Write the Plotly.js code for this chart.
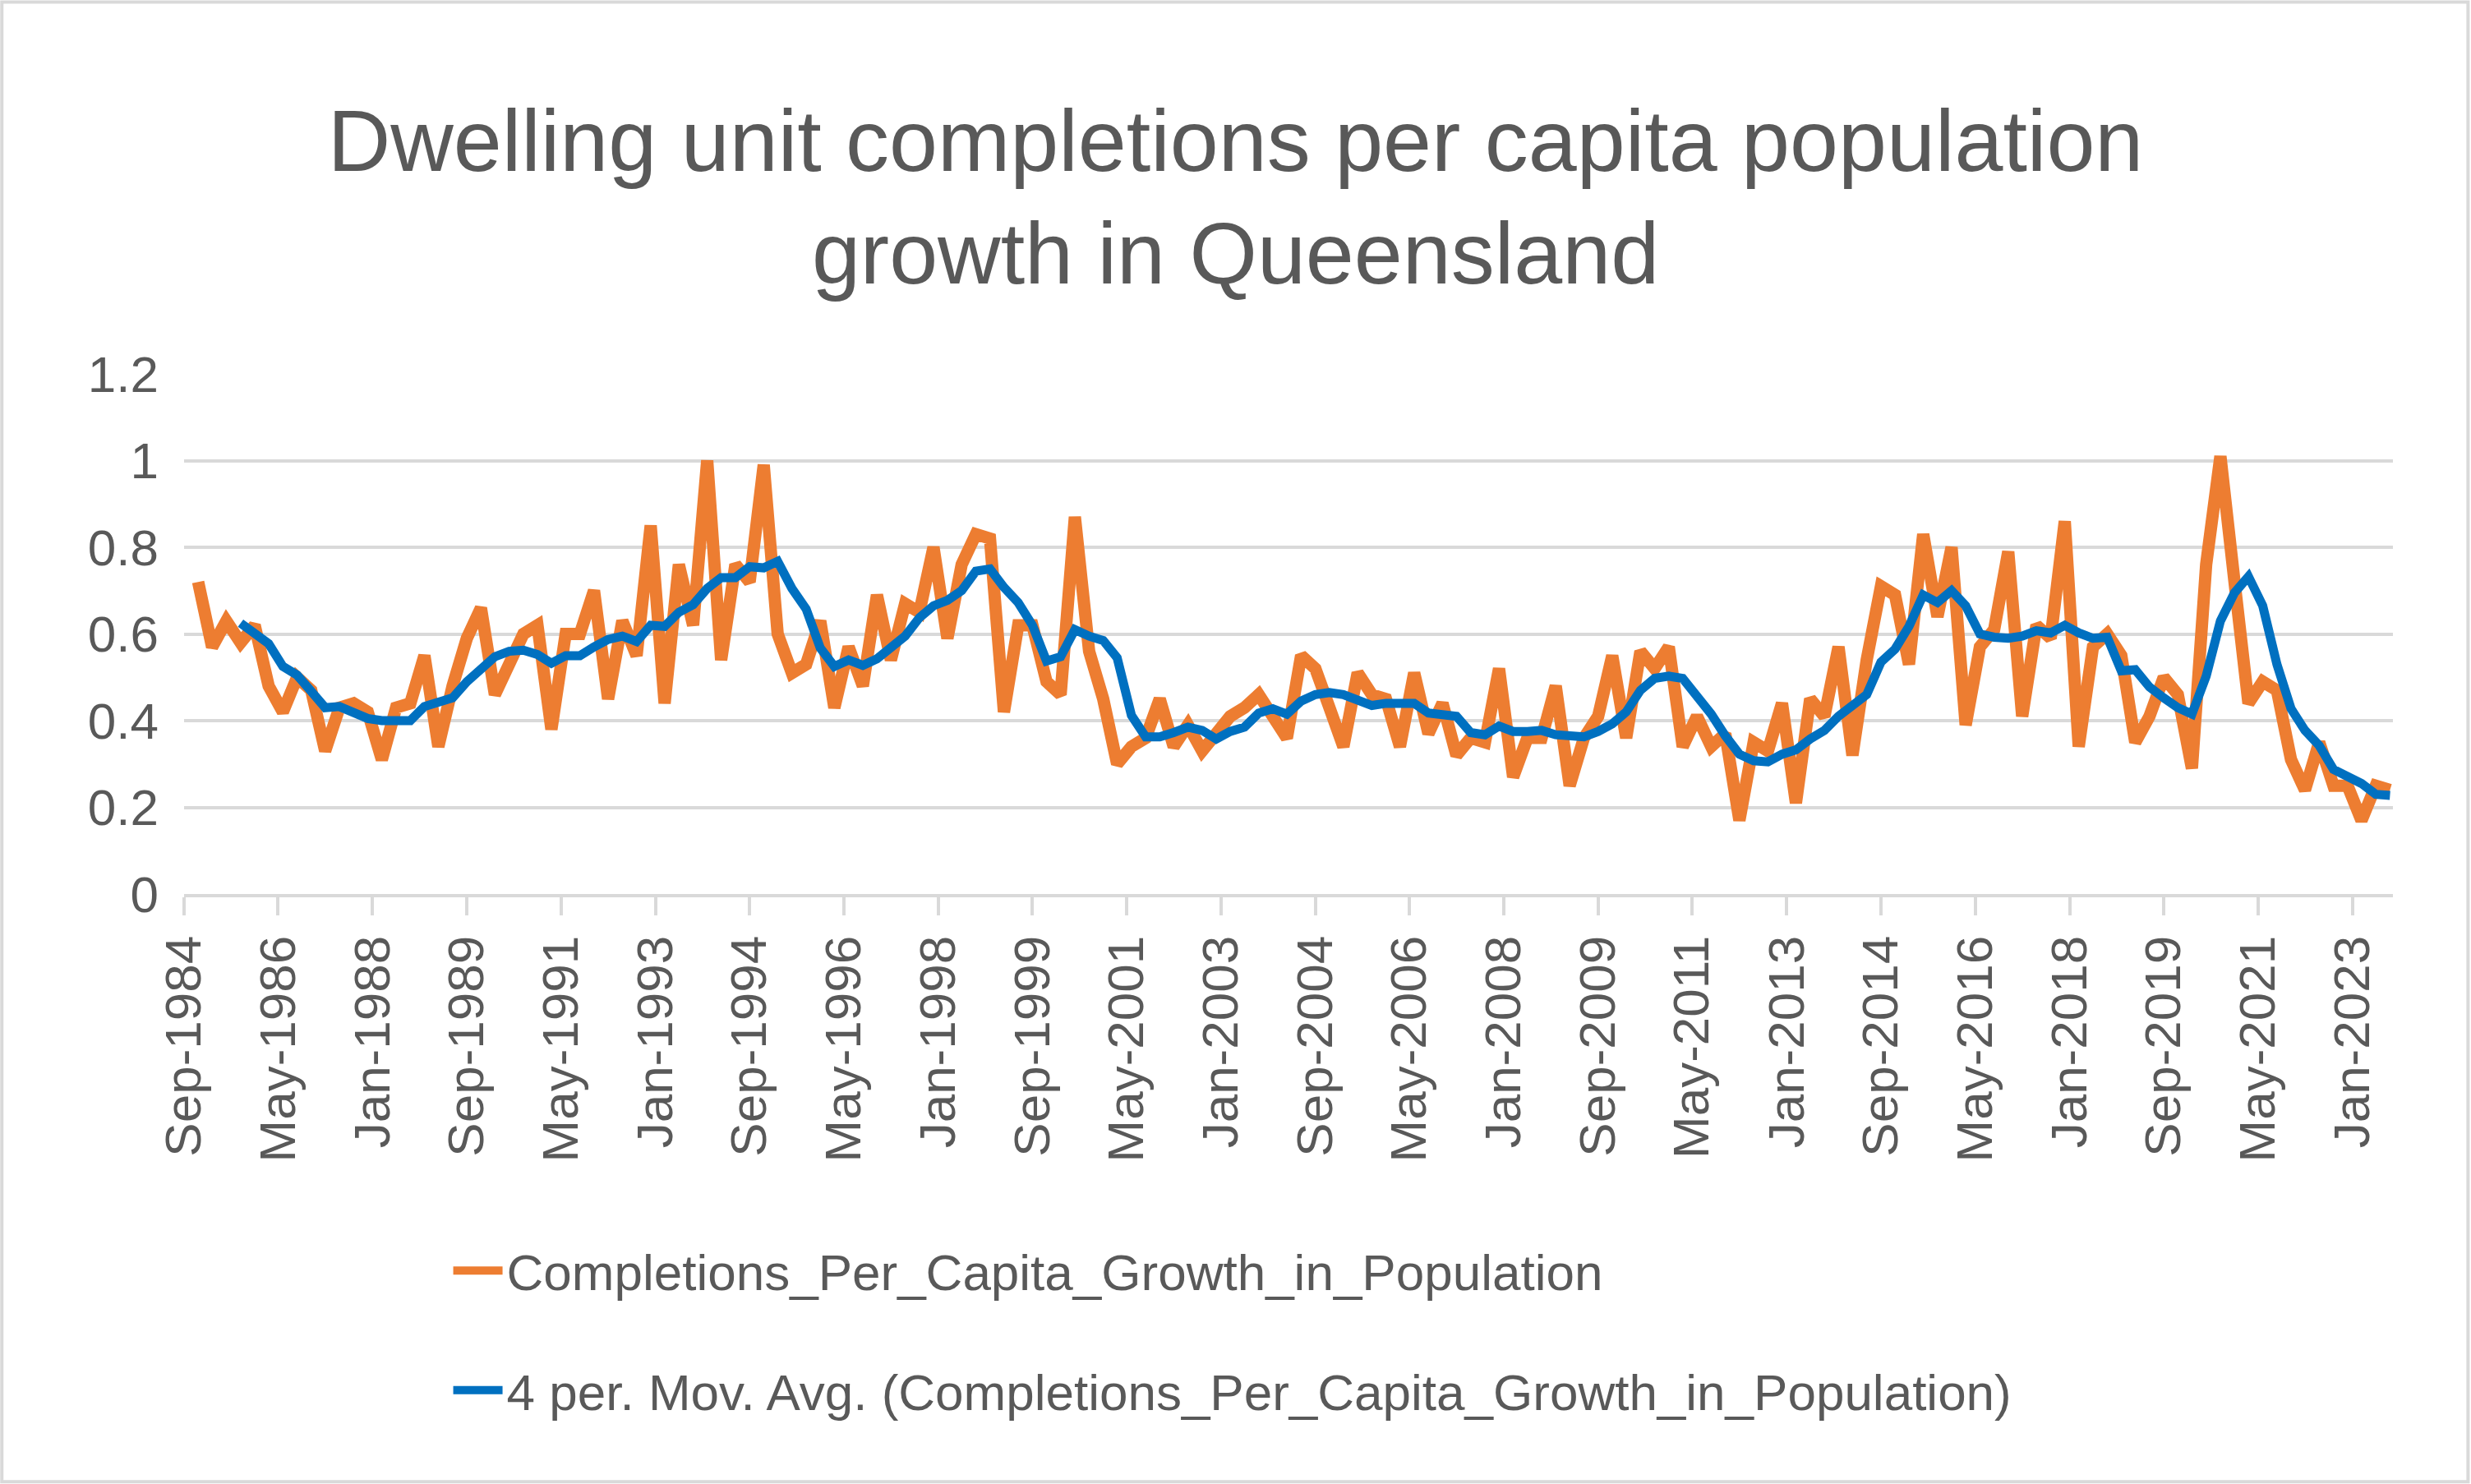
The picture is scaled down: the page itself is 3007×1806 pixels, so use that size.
<!DOCTYPE html>
<html>
<head>
<meta charset="utf-8">
<script src="https://cdn.plot.ly/plotly-3.0.1.min.js"></script>
<style>body{margin:0;background:#fff}#plot{width:3007px;height:1806px}</style>
</head>
<body>
<div id="plot"></div>
<script>
// quarterly, Dec-1984 .. Sep-2023
var first_quarter = [1984, 12];
var completions = [
   0.72,0.57,0.63,0.58,0.62,0.48,0.42,0.50,0.47,0.33,
   0.43,0.44,0.42,0.31,0.43,0.44,0.55,0.34,0.48,0.59,
   0.66,0.46,0.53,0.60,0.62,0.38,0.60,0.60,0.70,0.45,
   0.63,0.55,0.85,0.44,0.76,0.62,1.00,0.54,0.76,0.72,
   0.99,0.60,0.51,0.53,0.63,0.43,0.57,0.48,0.69,0.54,
   0.67,0.65,0.80,0.59,0.76,0.83,0.82,0.42,0.62,0.62,
   0.49,0.46,0.87,0.56,0.45,0.30,0.34,0.36,0.45,0.34,
   0.39,0.33,0.37,0.41,0.43,0.46,0.41,0.36,0.55,
   0.52,0.43,0.34,0.51,0.46,0.45,0.34,0.51,0.37,0.44,
   0.32,0.36,0.35,0.52,0.27,0.36,0.36,0.48,0.25,0.36,
   0.41,0.55,0.36,0.56,0.52,0.57,0.34,0.41,0.34,0.37,
   0.17,0.35,0.33,0.44,0.21,0.45,0.41,0.57,0.32,0.54,
   0.71,0.69,0.53,0.83,0.64,0.80,0.39,0.57,0.61,0.79,
   0.41,0.62,0.59,0.86,0.34,0.57,0.60,0.55,0.35,0.41,
   0.50,0.46,0.29,0.76,1.01,0.72,0.44,0.49,0.47,0.31,
   0.24,0.35,0.25,0.25,0.17,0.25,0.24
];

var dates = completions.map(function(v, i){
   var m = first_quarter[1] - 1 + 3*i;
   var y = first_quarter[0] + Math.floor(m/12);
   var mm = (m % 12) + 1;
   return y + '-' + (mm < 10 ? '0' : '') + mm + '-01';
});

// Excel trendline: 4 period moving average
var ma_x = [], ma_y = [];
for (var i = 3; i < completions.length; i++){
   ma_x.push(dates[i]);
   ma_y.push((completions[i]+completions[i-1]+completions[i-2]+completions[i-3])/4);
}

var font_name = 'Liberation Sans, Arial, sans-serif';

var raw_trace = {
   name:'Completions_Per_Capita_Growth_in_Population',
   x:dates, y:completions,
   mode:'lines', legendgroup:'a',
   line:{width:15, color:'#ED7D31'}
};
var ma_trace = {
   name:'4 per. Mov. Avg. (Completions_Per_Capita_Growth_in_Population)',
   x:ma_x, y:ma_y,
   mode:'lines', legendgroup:'b',
   line:{width:11, color:'#0070C0'}
};

Plotly.newPlot('plot', [raw_trace, ma_trace], {
   width:3007, height:1806,
   margin:{l:224, r:95, t:455, b:718},
   paper_bgcolor:'#ffffff', plot_bgcolor:'#ffffff',
   font:{family:font_name, color:'#595959'},
   title:{
      text:'Dwelling unit completions per capita population<br>growth in Queensland',
      font:{size:106, color:'#595959'},
      x:0.5, xanchor:'center', yref:'container', y:0.885, yanchor:'middle'
   },
   xaxis:{
      type:'date',
      range:['1984-09-01','2023-09-20'],
      tick0:'1984-09-01', dtick:'M20', tickformat:'%b-%Y',
      tickangle:-90, tickfont:{size:62, color:'#595959'},
      ticks:'outside', ticklen:22, tickwidth:4, tickcolor:'#d9d9d9',
      showgrid:false, showline:true, linecolor:'#d9d9d9', linewidth:4,
      zeroline:false
   },
   yaxis:{
      range:[0,1.2], dtick:0.2, tickformat:'~g',
      tickfont:{size:62, color:'#595959'},
      gridcolor:'#d9d9d9', gridwidth:4, zeroline:false,
      ticks:'', ticklabelstandoff:30
   },
   showlegend:true,
   legend:{
      orientation:'v', x:0.12, xanchor:'left', y:-0.65, yanchor:'top',
      font:{size:62, color:'#595959'},
      traceorder:'grouped', tracegroupgap:62, itemwidth:60
   },
   shapes:[{type:'rect', xref:'paper', yref:'paper', x0:-0.0825, x1:1.034, y0:-1.13, y1:1.715,
      line:{color:'#d9d9d9', width:4}}]
}, {staticPlot:true});
</script>
</body>
</html>
